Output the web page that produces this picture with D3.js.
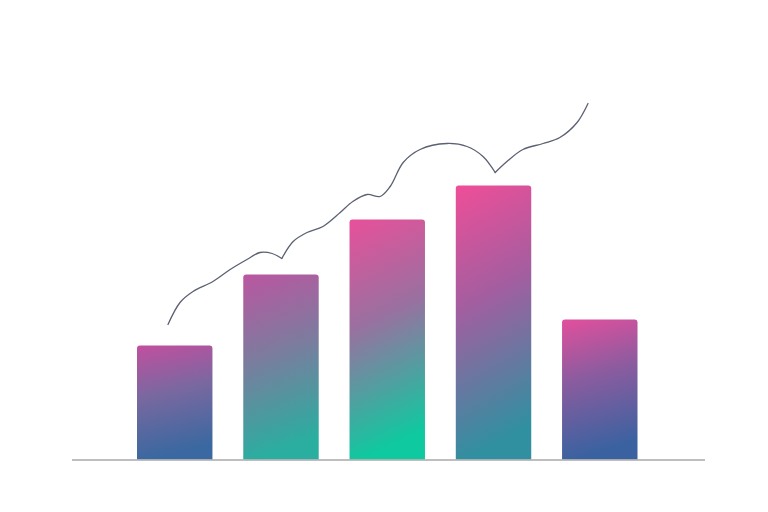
<!DOCTYPE html>
<html>
<head>
<meta charset="utf-8">
<script src="https://cdn.jsdelivr.net/npm/d3@7"></script>
<style>
  html, body { margin: 0; padding: 0; background: #fff; }
</style>
</head>
<body>
<div id="chart"></div>
<script>
const w = 768,
h = 512,
m = {top: 60, right: 63, bottom: 52, left: 72};

// bar data
const categories = ["A", "B", "C", "D", "E"];
const values = [28.5, 46.25, 60, 68.5, 35];

// trend line (t along the chart, v in the same units as the bars)
const lineT = [0, 2.86, 5.95, 10.7, 14.8, 18.8, 21.9, 24.8, 27.1, 29.8, 33.1, 36.9, 41, 44, 47.4, 50.5, 52.9, 56, 60, 66.4, 71.2, 75, 77.9, 80.7, 84.5, 89.3, 93.3, 97.4, 100];
const lineV = [33.75, 39.25, 42, 44.5, 47.5, 50, 51.75, 51.5, 50.25, 54.5, 56.75, 58.25, 61.75, 64.5, 66.25, 65.75, 68.25, 74.25, 77.5, 79, 78.25, 75.75, 71.75, 74.5, 77.5, 79, 80.5, 84.25, 89];
// sharp turns in the line
const lineBreaks = [8, 22];

// gradient colours per bar (top, middle, bottom)
const topColors = ["#c24f9f", "#bb56a1", "#e8509a", "#ef4e98", "#e24f9d"];
const midColors = ["#7a68a0", "#7f7a9e", "#9a70a0", "#a35ea0", "#8a5c9f"];
const bottomColors = ["#3a68a0", "#2aaea0", "#0fc9a0", "#3090a0", "#3a62a0"];

const svg = d3.select("#chart")
    .append("svg")
    .attr("width", w)
    .attr("height", h)
    .attr("viewBox", [0, 0, w, h]);

let x = d3.scaleBand(categories, [137, 637.5])
    .paddingInner(0.29)
    .paddingOuter(0);

let y = d3.scaleLinear([0, 100], [h - m.bottom - 0.5, m.top - 0.5]);

let xLine = d3.scaleLinear([0, 100], [168, 588]);

const defs = svg.append("defs");

categories.forEach((c, i) => {
    const g = defs.append("linearGradient")
        .attr("id", "grad" + i)
        .attr("x1", "0").attr("y1", "0")
        .attr("x2", "0.15").attr("y2", "1");
    g.append("stop").attr("offset", "0%").attr("stop-color", topColors[i]);
    g.append("stop").attr("offset", "45%").attr("stop-color", midColors[i]);
    g.append("stop").attr("offset", "100%").attr("stop-color", bottomColors[i]);
});

defs.append("filter")
    .attr("id", "soft")
    .append("feGaussianBlur")
    .attr("stdDeviation", 2);

// soft shadow under the baseline
svg.append("line")
    .attr("x1", m.left + 20).attr("x2", w - m.right - 20)
    .attr("y1", y(0) + 1).attr("y2", y(0) + 1)
    .attr("stroke", "#d8d8d8")
    .attr("stroke-width", 4)
    .attr("filter", "url(#soft)");

// bar with rounded top corners only
function barPath(x0, y0, bw, y1, r) {
    const p = d3.path();
    p.moveTo(x0, y1);
    p.lineTo(x0, y0 + r);
    p.arcTo(x0, y0, x0 + r, y0, r);
    p.lineTo(x0 + bw - r, y0);
    p.arcTo(x0 + bw, y0, x0 + bw, y0 + r, r);
    p.lineTo(x0 + bw, y1);
    p.closePath();
    return p.toString();
}

svg.append("g")
    .selectAll("path")
    .data(values)
    .join("path")
    .attr("d", (d, i) => barPath(x(categories[i]), y(d), x.bandwidth(), y(0), 3))
    .attr("fill", (d, i) => `url(#grad${i})`);

// baseline
svg.append("line")
    .attr("x1", m.left).attr("x2", w - m.right)
    .attr("y1", y(0) + 0.5).attr("y2", y(0) + 0.5)
    .attr("stroke", "#a9a9a9")
    .attr("stroke-width", 1.5);

// trend line, drawn in pieces so the turns stay sharp
const line = d3.line()
    .x(i => xLine(lineT[i]))
    .y(i => y(lineV[i]))
    .curve(d3.curveCatmullRom.alpha(0.5));

const cuts = [0, ...lineBreaks, lineT.length - 1];
const segments = d3.pairs(cuts).map(([a, b]) => d3.range(a, b + 1));

svg.append("g")
    .selectAll("path")
    .data(segments)
    .join("path")
    .attr("d", line)
    .attr("fill", "none")
    .attr("stroke", "#5b6072")
    .attr("stroke-width", 1.3)
    .attr("stroke-linecap", "round")
    .attr("stroke-linejoin", "round");
</script>
</body>
</html>
